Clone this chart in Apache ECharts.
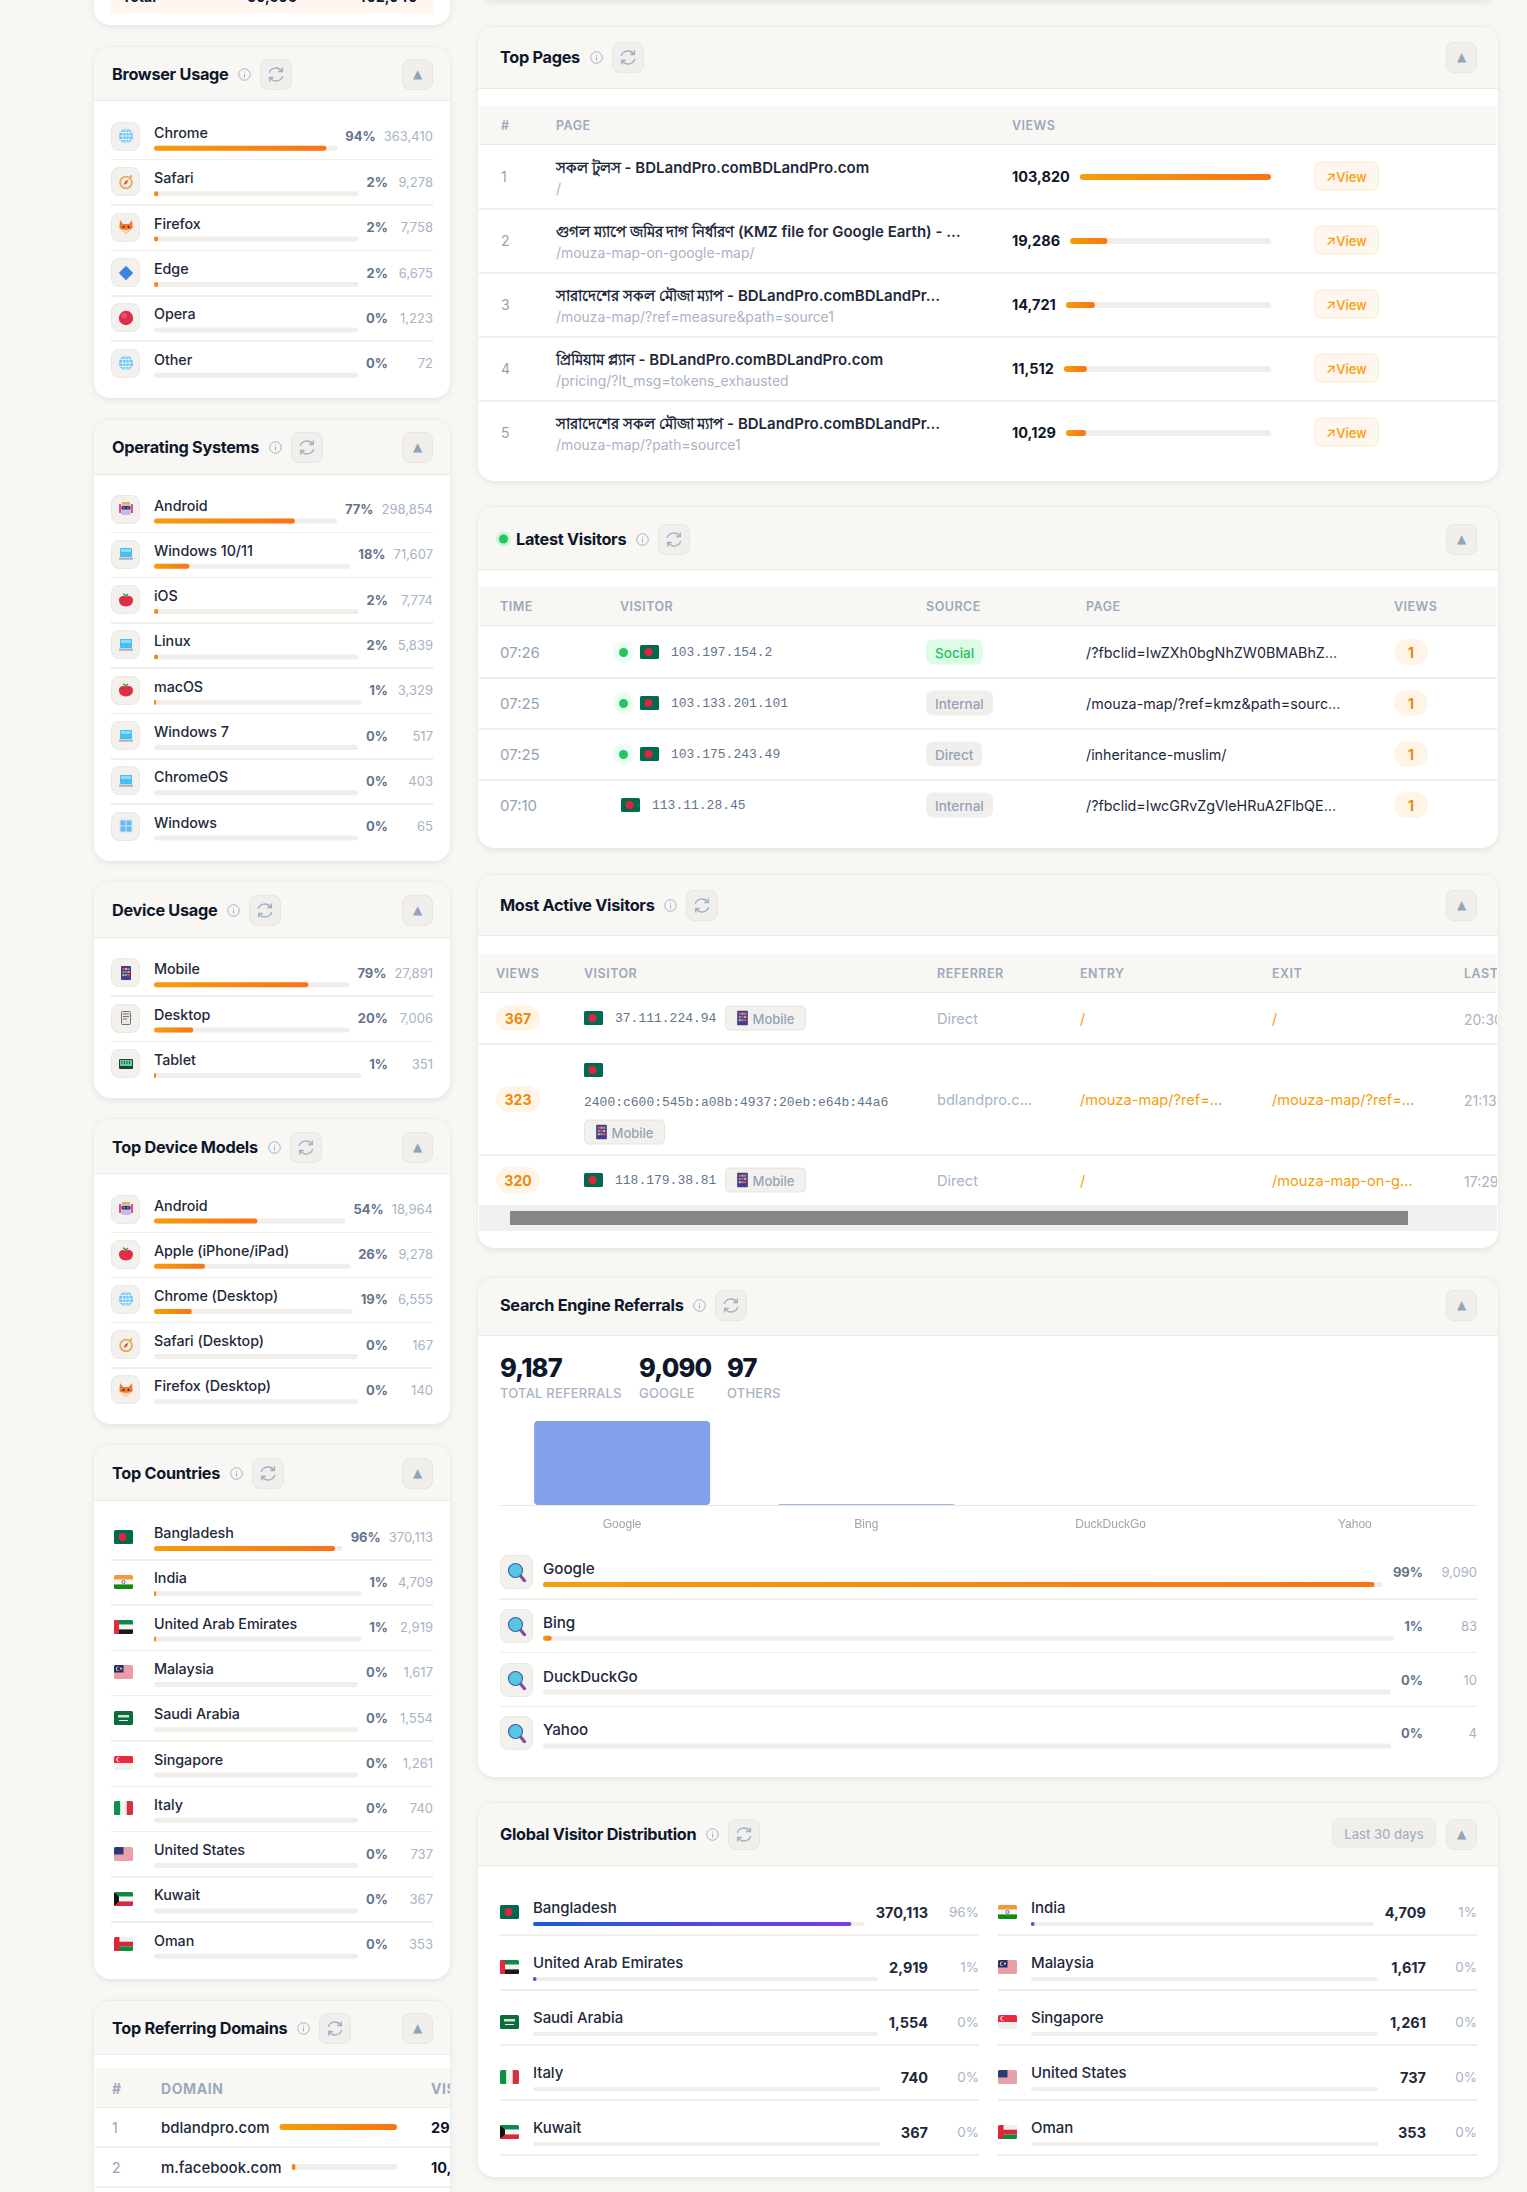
<!DOCTYPE html>
<html><head><meta charset="utf-8">
<script src="https://cdn.jsdelivr.net/npm/echarts@6/dist/echarts.min.js"></script>
<style>
html,body{margin:0;padding:0;width:1527px;height:2192px;overflow:hidden;background:#f8f7f4;font-family:Inter,'Noto Sans','DejaVu Sans',sans-serif;color:#0f172a}
#page{position:absolute;left:0;top:0;width:1527px;height:2192px;overflow:hidden}
#overlay{position:absolute;left:0;top:0;width:1527px;height:2192px;pointer-events:none;z-index:5}
.card{position:absolute;background:#fff;border-radius:16px;box-shadow:0 2px 6px rgba(60,50,30,.10)}
.hd{position:absolute;left:0;right:0;top:0;background:#f8f7f4;border-bottom:1.5px solid #ebe8e2;border-radius:16px 16px 0 0;border-top:1px solid #efede8}
.hdr{position:absolute;display:flex;align-items:center;height:31px}
.ttl{font-size:16.3px;font-weight:700;letter-spacing:-.3px;color:#0f172a;white-space:nowrap}
.info{margin-left:10px;width:13px;height:13px;display:block}
.rf{margin-left:9px;width:32px;height:31px;border-radius:8px;background:#f1efeb;border:1px solid #e9e6e0;box-sizing:border-box;display:flex;align-items:center;justify-content:center}
.cl{position:absolute;width:31px;height:31px;border-radius:8px;background:#f1efeb;border:1px solid #e9e6e0;box-sizing:border-box;color:#94a3b8;font:12px 'DejaVu Sans';display:flex;align-items:center;justify-content:center}
.t{position:absolute;white-space:nowrap;transform:translateY(-50%)}
.sep{position:absolute;height:1.5px;background:#f0ede8}
.band{position:absolute;background:#f8f7f4;border-bottom:1.5px solid #ebe8e2;box-sizing:border-box}
.th{font-size:12.5px;font-weight:600;letter-spacing:.5px;color:#9ca9bc}
.row{position:absolute;display:flex;align-items:center}
.ic{flex:none;display:flex;align-items:center;justify-content:center;background:#f3f1ed;border:1px solid #ebe8e2;border-radius:8px;box-sizing:border-box}
.fl{flex:none;display:flex;align-items:center}
.blk{flex:1;min-width:0}
.nm{font-size:14.3px;font-weight:500;letter-spacing:-.05px;color:#1e293b;white-space:nowrap;line-height:22px;height:22px}
.slot{margin-top:2px}
.pct{flex:none;font-size:13px;font-weight:700;color:#64748b;white-space:nowrap}
.val{flex:none;font-size:13px;color:#a8b3c4;text-align:right;white-space:nowrap}
.bdg{position:absolute;transform:translateY(-50%);height:25px;padding:0 9px;display:flex;align-items:center;border-radius:7px;font-size:13.5px;font-weight:500;box-sizing:border-box;white-space:nowrap}
.pill{position:absolute;transform:translateY(-50%);display:flex;align-items:center;justify-content:center;background:#fff4e6;color:#e98a0b;font-weight:700;border-radius:13px;height:26px;font-size:14px}
.dot{position:absolute;transform:translateY(-50%);width:21px;height:22px;border-radius:11px;background:#ecfdf3;display:flex;align-items:center;justify-content:center}
.dot i{display:block;width:9px;height:9px;border-radius:50%;background:#22c55e}
.vb{position:absolute;transform:translateY(-50%);width:65px;height:29px;border-radius:6px;background:#fff7ed;border:1px solid #fdecd4;box-sizing:border-box;color:#f59e0b;font-size:13px;font-weight:500;display:flex;align-items:center;justify-content:center}
.mb{position:absolute;transform:translateY(-50%);height:25px;width:81px;border-radius:5px;background:#f3f1ed;border:1px solid #e7e4de;box-sizing:border-box;color:#94a3b8;font-size:13px;font-weight:500;display:flex;align-items:center;justify-content:center;gap:5px}
.mono{font-family:'Liberation Mono',monospace;font-size:13px;color:#64748b}
.clip{position:absolute;left:0;top:0;height:2192px;overflow:hidden}
</style></head><body>
<div id="page"></div><div id="overlay"></div>
<script>
/* ---------- chart values ---------- */
const browserNames=['Chrome','Safari','Firefox','Edge','Opera','Other'];
const browserPct=[94,2,2,2,0,0];
const browserCounts=['363,410','9,278','7,758','6,675','1,223','72'];
const osNames=['Android','Windows 10/11','iOS','Linux','macOS','Windows 7','ChromeOS','Windows'];
const osPct=[77,18,2,2,1,0,0,0];
const osCounts=['298,854','71,607','7,774','5,839','3,329','517','403','65'];
const deviceNames=['Mobile','Desktop','Tablet'];
const devicePct=[79,20,1];
const deviceCounts=['27,891','7,006','351'];
const modelNames=['Android','Apple (iPhone/iPad)','Chrome (Desktop)','Safari (Desktop)','Firefox (Desktop)'];
const modelPct=[54,26,19,0,0];
const modelCounts=['18,964','9,278','6,555','167','140'];
const countryNames=['Bangladesh','India','United Arab Emirates','Malaysia','Saudi Arabia','Singapore','Italy','United States','Kuwait','Oman'];
const countryPct=[96,1,1,0,0,0,0,0,0,0];
const countryCounts=['370,113','4,709','2,919','1,617','1,554','1,261','740','737','367','353'];
const domainNames=['bdlandpro.com','m.facebook.com'];
const domainViews=[299000,10400];
const domainViewText=['299,000','10,400'];
const pageTitles=['সকল টুলস - BDLandPro.comBDLandPro.com','গুগল ম্যাপে জমির দাগ নির্ধারণ (KMZ file for Google Earth) - …','সারাদেশের সকল মৌজা ম্যাপ - BDLandPro.comBDLandPr…','প্রিমিয়াম প্ল্যান - BDLandPro.comBDLandPro.com','সারাদেশের সকল মৌজা ম্যাপ - BDLandPro.comBDLandPr…'];
const pagePaths=['/','/mouza-map-on-google-map/','/mouza-map/?ref=measure&path=source1','/pricing/?lt_msg=tokens_exhausted','/mouza-map/?path=source1'];
const pageViews=[103820,19286,14721,11512,10129];
const latestTimes=['07:26','07:25','07:25','07:10'];
const latestIps=['103.197.154.2','103.133.201.101','103.175.243.49','113.11.28.45'];
const latestOnline=[true,true,true,false];
const latestSources=['Social','Internal','Direct','Internal'];
const latestPages=['/?fbclid=IwZXh0bgNhZW0BMABhZ…','/mouza-map/?ref=kmz&path=sourc…','/inheritance-muslim/','/?fbclid=IwcGRvZgVleHRuA2FlbQE…'];
const latestViews=[1,1,1,1];
const activeViews=[367,323,320];
const activeIps=['37.111.224.94','2400:c600:545b:a08b:4937:20eb:e64b:44a6','118.179.38.81'];
const activeRefs=['Direct','bdlandpro.c…','Direct'];
const activeEntry=['/','/mouza-map/?ref=…','/'];
const activeExit=['/','/mouza-map/?ref=…','/mouza-map-on-g…'];
const activeLast=['20:30','21:13','17:29'];
const searchNames=['Google','Bing','DuckDuckGo','Yahoo'];
const searchCounts=[9090,83,10,4];
const searchPct=[99,1,0,0];
const searchStats=['9,187','9,090','97'];
const searchStatLabels=['TOTAL REFERRALS','GOOGLE','OTHERS'];
const globalPct=[96,1,1,0,0,0,0,0,0,0];
const globalCounts=['370,113','4,709','2,919','1,617','1,554','1,261','740','737','367','353'];

/* ---------- small drawings ---------- */
const IC={
globe:'<circle cx="8" cy="8" r="7.2" fill="#6cc4f5"/><g stroke="#e6f6ff" stroke-width=".9" fill="none"><ellipse cx="8" cy="8" rx="3.4" ry="7.2"/><path d="M.8 8h14.4M1.8 4.5h12.4M1.8 11.5h12.4M8 .8v14.4"/></g>',
compass:'<circle cx="8" cy="8.5" r="6.8" fill="#e7a94f"/><circle cx="8" cy="8.5" r="5" fill="#f4ede2"/><path d="M10.5 5.5 9 9.5 5.5 11 7 7.5z" fill="#d9534f"/><circle cx="13" cy="2.5" r="1.3" fill="#e7a94f"/>',
fox:'<path d="M2 1l3 4h6l3-4 .6 8L8 15 1.4 9z" fill="#f0792b"/><path d="M3 10l5 1 5-1-5 5z" fill="#f9d7b8"/><circle cx="5.5" cy="8" r=".9" fill="#222"/><circle cx="10.5" cy="8" r=".9" fill="#222"/>',
diamond:'<path d="M8 .8 15.2 8 8 15.2.8 8z" fill="#3c83dc"/>',
red:'<circle cx="8" cy="8" r="7.2" fill="#dc2f4f"/><circle cx="6" cy="5.5" r="3" fill="#ee5a72" opacity=".7"/>',
robot:'<rect x="1" y="3" width="2" height="9" fill="#e84a8a"/><rect x="13" y="3" width="2" height="9" fill="#e84a8a"/><path d="M4 1h8v2H4z" fill="#eab13c"/><rect x="3" y="3" width="10" height="11" rx="2" fill="#cbb8e6"/><rect x="3.5" y="5" width="9" height="3.5" rx="1.5" fill="#2d3550"/><circle cx="6" cy="6.7" r=".8" fill="#7dd3fc"/><circle cx="10" cy="6.7" r=".8" fill="#7dd3fc"/>',
laptop:'<rect x="2" y="2" width="12" height="9" rx=".8" fill="#48bdf0"/><rect x="3" y="3" width="10" height="3" fill="#8adbf9"/><rect x="1" y="11.5" width="14" height="2.2" rx=".8" fill="#a9b2bf"/>',
apple:'<path d="M5 2c1 0 2 1 3 2l2-2" fill="none" stroke="#3ea53e" stroke-width="1.6"/><path d="M8 4.6c2-1.2 7-1 7 3.4 0 4.5-3.2 6.4-7 6.4S1 12.5 1 8c0-4.4 5-4.6 7-3.4z" fill="#dd2f46"/>',
win:'<rect x="1.5" y="1.5" width="13" height="13" fill="#cfe6f7"/><rect x="2.5" y="2.5" width="5" height="5" fill="#6cb9ee"/><rect x="8.5" y="2.5" width="5" height="5" fill="#6cb9ee"/><rect x="2.5" y="8.5" width="5" height="5" fill="#6cb9ee"/><rect x="8.5" y="8.5" width="5" height="5" fill="#6cb9ee"/>',
phone:'<rect x="3" y="1" width="10" height="14" rx="1" fill="#4b3a8c"/><rect x="4.5" y="3" width="2" height="2" fill="#ef4f4f"/><rect x="7" y="3" width="2" height="2" fill="#f5b53d"/><rect x="9.5" y="3" width="2" height="2" fill="#3fb7e8"/><rect x="4.5" y="6" width="2" height="2" fill="#3fb7e8"/><rect x="7" y="6" width="2" height="2" fill="#ef4f4f"/><rect x="9.5" y="6" width="2" height="2" fill="#f5b53d"/><rect x="4.5" y="9" width="2" height="2" fill="#f5b53d"/><rect x="7" y="9" width="2" height="2" fill="#3fb7e8"/><rect x="9.5" y="9" width="2" height="2" fill="#ef4f4f"/>',
desktop:'<rect x="3.5" y="1.5" width="9" height="13" rx="1" fill="#e9e7e2" stroke="#77736c"/><path d="M5 4h6M5 6.5h6M5 9h4" stroke="#77736c"/>',
keyboard:'<rect x="1" y="3" width="14" height="10" rx="1" fill="#2d3a3a"/><rect x="2" y="4" width="12" height="6" fill="#5ed39a"/><path d="M4 5v3M6.5 5v3M9 5v3M11.5 5v3" stroke="#2d3a3a" stroke-width=".8"/>',
search:'<path d="M10 10l4 5" stroke="#8a4b9c" stroke-width="2.6" stroke-linecap="round"/><circle cx="6.8" cy="6.8" r="5.6" fill="#57c6e6" stroke="#3f5f9e" stroke-width=".9"/>'
};
function icon(k,s){return '<svg width="'+s+'" height="'+s+'" viewBox="0 0 16 16" style="display:block">'+IC[k]+'</svg>';}
const FL={
Bangladesh:'<rect width="19" height="14" fill="#006a4e"/><circle cx="8.5" cy="7" r="4" fill="#e0243f"/>',
India:'<rect width="19" height="4.7" fill="#f9953a"/><rect y="4.7" width="19" height="4.7" fill="#f5f5f5"/><rect y="9.4" width="19" height="4.6" fill="#15880f"/><circle cx="9.5" cy="7" r="1.6" fill="none" stroke="#223a80" stroke-width=".7"/>',
'United Arab Emirates':'<rect width="19" height="4.7" fill="#0c8a4a"/><rect y="4.7" width="19" height="4.7" fill="#f2f2f2"/><rect y="9.4" width="19" height="4.6" fill="#1a1a1a"/><rect width="5" height="14" fill="#e5283b"/>',
Malaysia:'<rect width="19" height="14" fill="#f4f4f4"/><path d="M0 1h19M0 3h19M0 5h19M0 7h19M0 9h19M0 11h19M0 13h19" stroke="#e0465a" stroke-width="1"/><rect width="9.5" height="7.5" fill="#1f2a80"/><circle cx="4" cy="3.7" r="2.2" fill="#f7c72e"/><circle cx="4.8" cy="3.7" r="1.8" fill="#1f2a80"/><circle cx="7" cy="3.7" r="1.1" fill="#f7c72e"/>',
'Saudi Arabia':'<rect width="19" height="14" fill="#0a6d3a"/><path d="M4 4h11v2.6H4z" fill="#cfe5d6"/><path d="M5 9.5h9" stroke="#eef" stroke-width="1"/>',
Singapore:'<rect width="19" height="7" fill="#ea2a3c"/><rect y="7" width="19" height="7" fill="#f0f0f0"/><circle cx="4.5" cy="3.5" r="2.2" fill="#fff"/><circle cx="5.4" cy="3.5" r="2" fill="#ea2a3c"/>',
Italy:'<rect width="6.4" height="14" fill="#0d9146"/><rect x="6.4" width="6.3" height="14" fill="#f4f4f4"/><rect x="12.7" width="6.3" height="14" fill="#d5323d"/>',
'United States':'<rect width="19" height="14" fill="#f4f4f4"/><path d="M0 1h19M0 3h19M0 5h19M0 7h19M0 9h19M0 11h19M0 13h19" stroke="#d9505f" stroke-width="1"/><rect width="9.5" height="7.5" fill="#2e3a78"/>',
Kuwait:'<rect width="19" height="4.7" fill="#0a8a45"/><rect y="4.7" width="19" height="4.7" fill="#f4f4f4"/><rect y="9.4" width="19" height="4.6" fill="#d8283c"/><path d="M0 0l5 4.7v4.7L0 14z" fill="#111"/>',
Oman:'<rect width="19" height="4.7" fill="#f0f0f0"/><rect y="4.7" width="19" height="4.7" fill="#d9263a"/><rect y="9.4" width="19" height="4.6" fill="#0d8a3e"/><rect width="5.5" height="14" fill="#d9263a"/>'
};
function flag(c){return '<svg width="19" height="14" viewBox="0 0 19 14" style="display:block;border-radius:1.5px;overflow:hidden">'+FL[c]+'</svg>';}
const esc=s=>String(s).replace(/&/g,'&amp;').replace(/</g,'&lt;');

/* ---------- layout ---------- */
let H='';
const bars=[];
function slot(name,value,max,pal,h,flush){bars.push({name,value,max,pal,h});return '<div class="'+(flush?'slot0':'slot')+'" id="s'+(bars.length-1)+'" style="height:'+h+'px"></div>';}
function T(x,y,s,css,cls){return '<span class="t '+(cls||'')+'" style="left:'+x+'px;top:'+y+'px;'+(css||'')+'">'+esc(s)+'</span>';}
const infoSvg='<svg class="info" viewBox="0 0 12 12"><circle cx="6" cy="6" r="5.3" fill="none" stroke="#9fb0c6" stroke-width=".9"/><path d="M6 5.2v3.6M6 3.2v1" stroke="#9fb0c6" stroke-width="1"/></svg>';
const rfSvg='<svg width="18" height="17" viewBox="0 0 16 15" fill="none" stroke="#9fb0c6" stroke-width="1.3"><path d="M2 6a6 5.5 0 0 1 11-1.5M14 9a6 5.5 0 0 1-11 1.5"/><path d="M13.6 1.2v3.6H10M2.4 13.8v-3.6H6"/></svg>';
function card(x,w,top,hb,bottom,title,cy,dot){
 const isL=x<200, tx=isL?x+18:x+22, cr=isL?433:1477;
 H+='<div class="card" style="left:'+x+'px;width:'+w+'px;top:'+top+'px;height:'+(bottom-top)+'px"><div class="hd" style="height:'+(hb-top)+'px;box-sizing:border-box"></div></div>';
 H+='<div class="hdr" style="left:'+(dot?tx+16:tx)+'px;top:'+(cy-15.5)+'px"><span class="ttl">'+title+'</span>'+infoSvg+'<span class="rf">'+rfSvg+'</span></div>';
 H+='<div class="cl" style="left:'+(cr-31)+'px;top:'+(cy-15.5)+'px">▲</div>';
 if(dot)H+='<div class="dot" style="left:'+(tx-4)+'px;top:'+cy+'px;width:15px;height:15px;background:#c8f5d8"><i></i></div>';
}
function sideList(names,pct,counts,start,pitch,ics){
 names.forEach((n,i)=>{
  const c=start+i*pitch, top=c-14.5;
  const lead=ics?'<span class="ic" style="width:29px;height:29px">'+icon(ics[i],16)+'</span>':'<span class="fl" style="width:29px;height:29px;padding-left:3px;box-sizing:border-box">'+flag(n)+'</span>';
  H+='<div class="row" style="left:111px;width:322px;top:'+top+'px;height:29px">'+lead+
   '<div class="blk" style="margin:0 8px 0 14px"><div class="nm">'+esc(n)+'</div>'+slot(n,pct[i],100,'o',5)+'</div>'+
   '<span class="pct">'+pct[i]+'%</span><span class="val" style="min-width:37px;margin-left:8px">'+counts[i]+'</span></div>';
  if(i<names.length-1)H+='<div class="sep" style="left:111px;width:322px;top:'+(c+22.5)+'px"></div>';
 });
}

/* stubs of the cards cut off at the top */
H+='<div class="card" style="left:94px;width:356px;top:-60px;height:85px"></div>';
H+='<div style="position:absolute;left:111px;width:322px;top:-30px;height:43px;background:#fff7ef"></div>';
H+=T(122,-4,'Total','font-size:14px;font-weight:700')+T(247,-4,'50,606','font-size:14px;font-weight:700')+T(357,-4,'402,040','font-size:14px;font-weight:700');
H+='<div class="card" style="left:478px;width:1020px;top:-60px;height:60px"></div>';

/* left column */
card(94,356,46,101,398,'Browser Usage',74);
sideList(browserNames,browserPct,browserCounts,136.3,45.4,['globe','compass','fox','diamond','red','globe']);
card(94,356,419,475,861,'Operating Systems',447);
sideList(osNames,osPct,osCounts,509,45.3,['robot','laptop','apple','laptop','apple','laptop','laptop','win']);
card(94,356,881,938,1098,'Device Usage',910);
sideList(deviceNames,devicePct,deviceCounts,972.7,45.4,['phone','desktop','keyboard']);
card(94,356,1118,1174,1424,'Top Device Models',1147);
sideList(modelNames,modelPct,modelCounts,1209,45.2,['robot','apple','globe','compass','fox']);
card(94,356,1444,1501,1979,'Top Countries',1473);
sideList(countryNames,countryPct,countryCounts,1536.5,45.3,null);
card(94,356,2000,2055,2260,'Top Referring Domains',2028);
H+='<div class="band" style="left:95px;width:355px;top:2068px;height:40px"></div>';
H+='<div class="clip" style="width:450px">';
H+=T(112,2088,'#','font-size:14px;font-weight:700;color:#9ca9bc')+T(161,2088,'DOMAIN','font-size:14px;font-weight:700;letter-spacing:.6px;color:#9ca9bc')+T(431,2088,'VISITS','font-size:14px;font-weight:700;letter-spacing:.6px;color:#9ca9bc');
domainNames.forEach((n,i)=>{
 const c=2127+i*40;
 H+=T(112,c,String(i+1),'font-size:14px;color:#94a3b8');
 H+='<div class="row" style="left:161px;width:236px;top:'+(c-10)+'px;height:20px"><span style="font-size:15px;font-weight:500;color:#1e293b;white-space:nowrap;margin-right:10px">'+n+'</span><div class="blk">'+slot(n,domainViews[i],domainViews[0],'o',6,true)+'</div></div>';
 H+=T(431,c,domainViewText[i],'font-size:14.5px;font-weight:700;color:#0f172a');
 H+='<div class="sep" style="left:95px;width:355px;top:'+(c+19)+'px"></div>';
});
H+='</div>';

/* Top Pages */
card(478,1020,26,89,481,'Top Pages',57);
H+='<div class="band" style="left:479px;width:1018px;top:106px;height:39px"></div>';
H+=T(501,125,'#','','th')+T(556,125,'PAGE','','th')+T(1012,125,'VIEWS','','th');
pageTitles.forEach((p,i)=>{
 const c=176+i*64;
 H+=T(501,c,String(i+1),'font-size:14px;color:#94a3b8');
 H+=T(556,c-8,p,'font-size:15px;font-weight:600;color:#1e293b');
 H+=T(556,c+13,pagePaths[i],'font-size:13.9px;color:#a8b3c4');
 H+='<div class="row" style="left:1012px;width:259px;top:'+(c-10)+'px;height:20px"><span style="font-size:14.5px;font-weight:700;margin-right:10px">'+pageViews[i].toLocaleString('en-US')+'</span><div class="blk">'+slot(p,pageViews[i],pageViews[0],'o',6)+'</div></div>';
 H+='<div class="vb" style="left:1314px;top:'+c+'px">↗View</div>';
 if(i<4)H+='<div class="sep" style="left:479px;width:1018px;top:'+(c+32)+'px"></div>';
});

/* Latest Visitors */
card(478,1020,506,570,848,'Latest Visitors',539,true);
H+='<div class="band" style="left:479px;width:1018px;top:587px;height:39px"></div>';
[['TIME',500],['VISITOR',620],['SOURCE',926],['PAGE',1086],['VIEWS',1394]].forEach(a=>{H+=T(a[1],606,a[0],'','th');});
const srcStyle={Social:'background:#dcfce7;color:#22c55e',Internal:'background:#f1efeb;color:#94a3b8',Direct:'background:#f1efeb;color:#94a3b8'};
latestTimes.forEach((tm,i)=>{
 const c=652+i*51;
 H+=T(500,c,tm,'font-size:15px;color:#94a3b8');
 let fx=621;
 if(latestOnline[i]){H+='<div class="dot" style="left:613px;top:'+c+'px"><i></i></div>';fx=640;}
 H+='<div style="position:absolute;left:'+fx+'px;top:'+(c-7)+'px">'+flag('Bangladesh')+'</div>';
 H+=T(fx+31,c,latestIps[i],'','mono');
 H+='<div class="bdg" style="left:926px;top:'+c+'px;'+srcStyle[latestSources[i]]+'">'+latestSources[i]+'</div>';
 H+=T(1086,c,latestPages[i],'font-size:14.3px;color:#1e293b');
 H+='<div class="pill" style="left:1394px;top:'+c+'px;width:34px">'+latestViews[i]+'</div>';
 if(i<3)H+='<div class="sep" style="left:479px;width:1018px;top:'+(c+25)+'px"></div>';
});

/* Most Active Visitors */
card(478,1020,874,936,1248,'Most Active Visitors',905);
H+='<div class="band" style="left:479px;width:1018px;top:954px;height:39px"></div>';
H+='<div class="clip" style="width:1497px">';
[['VIEWS',496],['VISITOR',584],['REFERRER',937],['ENTRY',1080],['EXIT',1272],['LAST',1464]].forEach(a=>{H+=T(a[1],973,a[0],'','th');});
const activeY=[1018,1099,1180];
const mobileBadge='<svg width="11" height="15" viewBox="3 1 10 14" style="display:block">'+IC.phone+'</svg><span>Mobile</span>';
activeViews.forEach((v,i)=>{
 const c=activeY[i];
 H+='<div class="pill" style="left:496px;top:'+c+'px;width:44px">'+v+'</div>';
 if(i===1){
  H+='<div style="position:absolute;left:584px;top:1063px">'+flag('Bangladesh')+'</div>';
  H+=T(584,1102,activeIps[i],'','mono');
  H+='<div class="mb" style="left:584px;top:1132px">'+mobileBadge+'</div>';
 }else{
  H+='<div style="position:absolute;left:584px;top:'+(c-7)+'px">'+flag('Bangladesh')+'</div>';
  H+=T(615,c,activeIps[i],'','mono');
  H+='<div class="mb" style="left:725px;top:'+c+'px">'+mobileBadge+'</div>';
 }
 H+=T(937,c+1,activeRefs[i],'font-size:14.6px;color:#a8b3c4');
 H+=T(1080,c+1,activeEntry[i],'font-size:14.6px;color:#f59e0b');
 H+=T(1272,c+1,activeExit[i],'font-size:14.6px;color:#f59e0b');
 H+=T(1464,c+1,activeLast[i],'font-size:14px;color:#a8b3c4');
});
H+='</div>';
H+='<div class="sep" style="left:479px;width:1018px;top:1043px"></div><div class="sep" style="left:479px;width:1018px;top:1154px"></div>';
H+='<div style="position:absolute;left:479px;width:1018px;top:1205px;height:26px;background:#f0f0f0"></div>';
H+='<div style="position:absolute;left:510px;width:898px;top:1211px;height:14px;background:#868686"></div>';

/* Search Engine Referrals */
card(478,1020,1277,1336,1777,'Search Engine Referrals',1305);
[500,639,727].forEach((x,i)=>{
 H+=T(x,1367,searchStats[i],'font-size:25.5px;font-weight:800;letter-spacing:-.8px;color:#0f172a');
 H+=T(x,1393,searchStatLabels[i],'font-size:13px;font-weight:500;letter-spacing:.2px;color:#a8b3c4');
});
searchNames.forEach((n,i)=>{
 const top=1555+i*53.8;
 H+='<div class="row" style="left:500px;width:977px;top:'+top+'px;height:34px"><span class="ic" style="width:33px;height:34px">'+icon('search',20)+'</span>'+
  '<div class="blk" style="margin:0 10px;height:34px"><div class="nm" style="font-size:15.2px;line-height:27px;height:27px">'+n+'</div>'+slot(n,searchPct[i],100,'o',5,true)+'</div>'+
  '<span class="pct">'+searchPct[i]+'%</span><span class="val" style="min-width:54px">'+searchCounts[i].toLocaleString('en-US')+'</span></div>';
 if(i<3)H+='<div class="sep" style="left:500px;width:977px;top:'+(top+43)+'px"></div>';
});

/* Global Visitor Distribution */
card(478,1020,1802,1866,2177,'Global Visitor Distribution',1834);
H+='<div class="bdg" style="left:1332px;top:1833px;width:104px;height:29px;justify-content:center;background:#f1efeb;border:1px solid #e9e6e0;color:#a8b3c4;font-weight:500;font-size:13px">Last 30 days</div>';
countryNames.forEach((n,i)=>{
 const col=i%2, rowi=Math.floor(i/2), x=col?998:500, c=1912+rowi*55;
 H+='<div class="row" style="left:'+x+'px;width:479px;top:'+(c-15)+'px;height:30px"><span class="fl" style="width:19px;margin-right:14px;margin-top:0">'+flag(n)+'</span>'+
  '<div class="blk" style="height:30px"><div class="nm" style="font-size:15px;height:25px">'+esc(n)+'</div>'+slot(n,globalPct[i],100,'b',4,true)+'</div>'+
  '<span style="flex:none;min-width:37px;margin-left:11px;text-align:right;font-size:14.5px;font-weight:700;color:#1e293b">'+globalCounts[i]+'</span>'+
  '<span class="val" style="width:51px;font-size:13.5px">'+globalPct[i]+'%</span></div>';
 H+='<div class="sep" style="left:'+x+'px;width:479px;top:'+(c+22)+'px"></div>';
});

document.getElementById('page').innerHTML=H;

/* ---------- every bar is drawn by ECharts from the arrays above ---------- */
const PAL={o:['#f59e0b','#f97316'],b:['#1d5bd8','#7c3aed']};
const grids=[],xs=[],ys=[],ser=[];
bars.forEach((b,i)=>{
 const r=document.getElementById('s'+i).getBoundingClientRect();
 grids.push({left:r.left,top:r.top,width:r.width,height:r.height,containLabel:false});
 xs.push({gridIndex:i,type:'value',min:0,max:b.max,show:false});
 ys.push({gridIndex:i,type:'category',data:[b.name],show:false});
 ser.push({type:'bar',xAxisIndex:i,yAxisIndex:i,data:[b.value],barWidth:b.h,silent:true,animation:false,
  showBackground:true,backgroundStyle:{color:'#f1eeea',borderRadius:3},
  itemStyle:{borderRadius:3,color:new echarts.graphic.LinearGradient(0,0,1,0,[{offset:0,color:PAL[b.pal][0]},{offset:1,color:PAL[b.pal][1]}])}});
});
const gi=bars.length;
grids.push({left:500,top:1421,width:977,height:84,containLabel:false});
xs.push({gridIndex:gi,type:'category',data:searchNames,axisLine:{lineStyle:{color:'#ebe9e6',width:1}},axisTick:{show:false},axisLabel:{color:'#a8a29e',fontSize:12,fontFamily:'Liberation Sans',margin:14}});
ys.push({gridIndex:gi,type:'value',min:0,max:9090,show:false});
ser.push({type:'bar',xAxisIndex:gi,yAxisIndex:gi,data:searchCounts,barWidth:176,silent:true,animation:false,itemStyle:{color:'#83a1ea',borderRadius:[4,4,4,4]}});
const chart=echarts.init(document.getElementById('overlay'),null,{renderer:'canvas',width:1527,height:2192});
chart.setOption({animation:false,tooltip:{show:false},grid:grids,xAxis:xs,yAxis:ys,series:ser});
</script></body></html>
